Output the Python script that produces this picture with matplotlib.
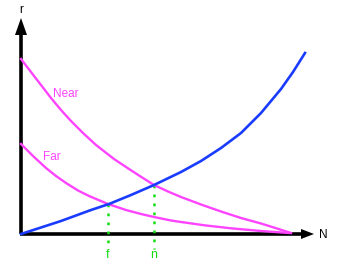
import numpy as np
import matplotlib
matplotlib.use("Agg")
import matplotlib.pyplot as plt
from matplotlib.patches import Polygon

plt.rcParams['font.family'] = ['Liberation Sans', 'DejaVu Sans']

# curves (origin at the axes corner)
blue_x = [0, 20, 40, 70, 88, 110, 133, 160, 180, 200, 220, 240, 260, 272, 284]
blue_y = [0, 6.5, 13, 24, 30, 39, 49, 62, 73, 86, 101, 121, 145, 162, 181]

near_x = [0, 10, 20, 30, 40, 50, 62, 75, 93, 105, 118, 133, 147, 160, 180, 200, 220, 240, 255, 270]
near_y = [175, 162, 149, 136, 124, 113, 101, 89, 75, 67, 58.5, 49, 42.5, 37, 29.5, 22.5, 16, 10.5, 5.8, 1]

far_x = [0, 12, 25, 35, 45, 57, 68, 87, 105, 120, 133, 150, 160, 185, 210, 240, 268]
far_y = [90, 78, 66, 58, 51, 43.5, 38, 30, 24, 20, 17, 13.5, 12, 8.5, 5.7, 3, 1]

marks = ['f', 'n']
mark_x = [87, 133]
mark_y = [30, 49]

magenta = '#ff44ff'
blue = '#1a3cff'
green = '#11dd11'

fig = plt.figure(figsize=(3.44, 2.68), dpi=100)
ax = fig.add_axes([0, 0, 1, 1])
ax.set_xlim(-21, 323)
ax.set_ylim(-34, 234)
ax.axis('off')

# axes with arrow heads
ax.plot([0, 0], [0, 202], color='k', lw=2.6, solid_capstyle='butt')
ax.plot([-1.5, 283], [0, 0], color='k', lw=2.6, solid_capstyle='butt')
ax.add_patch(Polygon([[-6, 199], [6, 199], [0, 216]], closed=True, color='k', lw=0))
ax.add_patch(Polygon([[280, 5], [280, -5], [293, 0]], closed=True, color='k', lw=0))
ax.text(0, 218, 'r', ha='center', va='bottom', fontsize=8.5)
ax.text(298, -1, 'N', ha='left', va='center', fontsize=8.5)

# green drop lines
for lbl, mx, my in zip(marks, mark_x, mark_y):
    ax.plot([mx, mx], [my, -15], color=green, lw=1.8, ls=(0, (1.1, 2.5)))
    ax.text(mx, -21, lbl, color=green, ha='center', va='center', fontsize=9)

ax.plot(near_x, near_y, color=magenta, lw=1.7)
ax.plot(far_x, far_y, color=magenta, lw=1.7)
ax.plot(blue_x, blue_y, color=blue, lw=1.9)

ax.text(32, 140, 'Near', color=magenta, ha='left', va='center', fontsize=8.5)
ax.text(22, 77, 'Far', color=magenta, ha='left', va='center', fontsize=8.5)

fig.savefig('out.png', dpi=100)
